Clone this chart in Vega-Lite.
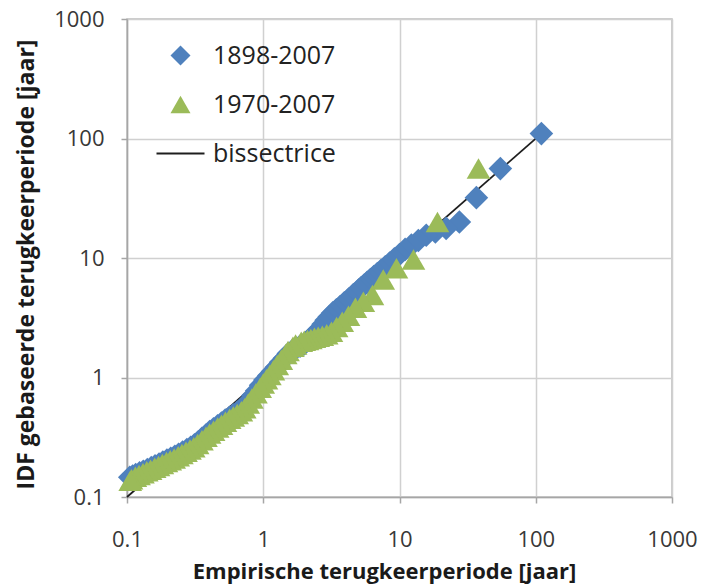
{
  "$schema": "https://vega.github.io/schema/vega-lite/v6.json",
  "width": 545,
  "height": 478,
  "autosize": "none",
  "padding": {"left": 127, "top": 19, "right": 31, "bottom": 89},
  "background": "white",
  "config": {"view": {"stroke": "#bdbdbd", "strokeWidth": 1.5}, "font": "Open Sans"},
  "datasets": {
    "bis": [{"x": 0.1, "y": 0.1}, {"x": 110, "y": 110}],
    "pts": [
      {"x": 110, "y": 110, "series": "1898-2007"},
      {"x": 55, "y": 56, "series": "1898-2007"},
      {"x": 36.67, "y": 32, "series": "1898-2007"},
      {"x": 27.5, "y": 20, "series": "1898-2007"},
      {"x": 22, "y": 17.7, "series": "1898-2007"},
      {"x": 18.33, "y": 16.5, "series": "1898-2007"},
      {"x": 15.71, "y": 15.5, "series": "1898-2007"},
      {"x": 13.75, "y": 14.0, "series": "1898-2007"},
      {"x": 12.22, "y": 12.8, "series": "1898-2007"},
      {"x": 11, "y": 11.8, "series": "1898-2007"},
      {"x": 10, "y": 10.7, "series": "1898-2007"},
      {"x": 9.167, "y": 9.82, "series": "1898-2007"},
      {"x": 8.462, "y": 9.07, "series": "1898-2007"},
      {"x": 7.857, "y": 8.43, "series": "1898-2007"},
      {"x": 7.333, "y": 7.88, "series": "1898-2007"},
      {"x": 6.875, "y": 7.41, "series": "1898-2007"},
      {"x": 6.471, "y": 6.99, "series": "1898-2007"},
      {"x": 6.111, "y": 6.61, "series": "1898-2007"},
      {"x": 5.789, "y": 6.27, "series": "1898-2007"},
      {"x": 5.5, "y": 5.94, "series": "1898-2007"},
      {"x": 5.238, "y": 5.66, "series": "1898-2007"},
      {"x": 5.0, "y": 5.40, "series": "1898-2007"},
      {"x": 4.583, "y": 4.93, "series": "1898-2007"},
      {"x": 4.231, "y": 4.54, "series": "1898-2007"},
      {"x": 3.929, "y": 4.21, "series": "1898-2007"},
      {"x": 3.667, "y": 3.93, "series": "1898-2007"},
      {"x": 3.4375, "y": 3.68, "series": "1898-2007"},
      {"x": 3.235, "y": 3.47, "series": "1898-2007"},
      {"x": 3.056, "y": 3.23, "series": "1898-2007"},
      {"x": 2.895, "y": 3.01, "series": "1898-2007"},
      {"x": 2.75, "y": 2.79, "series": "1898-2007"},
      {"x": 2.558, "y": 2.52, "series": "1898-2007"},
      {"x": 2.391, "y": 2.32, "series": "1898-2007"},
      {"x": 2.245, "y": 2.17, "series": "1898-2007"},
      {"x": 2.115, "y": 2.03, "series": "1898-2007"},
      {"x": 2.0, "y": 1.91, "series": "1898-2007"},
      {"x": 1.864, "y": 1.83, "series": "1898-2007"},
      {"x": 1.746, "y": 1.76, "series": "1898-2007"},
      {"x": 1.642, "y": 1.69, "series": "1898-2007"},
      {"x": 1.528, "y": 1.585, "series": "1898-2007"},
      {"x": 1.429, "y": 1.45, "series": "1898-2007"},
      {"x": 1.341, "y": 1.34, "series": "1898-2007"},
      {"x": 1.25, "y": 1.22, "series": "1898-2007"},
      {"x": 1.17, "y": 1.125, "series": "1898-2007"},
      {"x": 1.1, "y": 1.04, "series": "1898-2007"},
      {"x": 1.028, "y": 0.953, "series": "1898-2007"},
      {"x": 0.9565, "y": 0.861, "series": "1898-2007"},
      {"x": 0.8943, "y": 0.776, "series": "1898-2007"},
      {"x": 0.8397, "y": 0.706, "series": "1898-2007"},
      {"x": 0.7857, "y": 0.640, "series": "1898-2007"},
      {"x": 0.7333, "y": 0.575, "series": "1898-2007"},
      {"x": 0.6875, "y": 0.540, "series": "1898-2007"},
      {"x": 0.6433, "y": 0.513, "series": "1898-2007"},
      {"x": 0.6011, "y": 0.488, "series": "1898-2007"},
      {"x": 0.5641, "y": 0.465, "series": "1898-2007"},
      {"x": 0.5263, "y": 0.44, "series": "1898-2007"},
      {"x": 0.4933, "y": 0.416, "series": "1898-2007"},
      {"x": 0.4622, "y": 0.394, "series": "1898-2007"},
      {"x": 0.4314, "y": 0.372, "series": "1898-2007"},
      {"x": 0.4044, "y": 0.352, "series": "1898-2007"},
      {"x": 0.3793, "y": 0.330, "series": "1898-2007"},
      {"x": 0.3548, "y": 0.309, "series": "1898-2007"},
      {"x": 0.3333, "y": 0.290, "series": "1898-2007"},
      {"x": 0.3125, "y": 0.273, "series": "1898-2007"},
      {"x": 0.2933, "y": 0.260, "series": "1898-2007"},
      {"x": 0.275, "y": 0.249, "series": "1898-2007"},
      {"x": 0.2558, "y": 0.238, "series": "1898-2007"},
      {"x": 0.2391, "y": 0.228, "series": "1898-2007"},
      {"x": 0.2245, "y": 0.219, "series": "1898-2007"},
      {"x": 0.2095, "y": 0.211, "series": "1898-2007"},
      {"x": 0.1964, "y": 0.204, "series": "1898-2007"},
      {"x": 0.1833, "y": 0.196, "series": "1898-2007"},
      {"x": 0.1719, "y": 0.189, "series": "1898-2007"},
      {"x": 0.1606, "y": 0.182, "series": "1898-2007"},
      {"x": 0.1507, "y": 0.176, "series": "1898-2007"},
      {"x": 0.141, "y": 0.170, "series": "1898-2007"},
      {"x": 0.1317, "y": 0.164, "series": "1898-2007"},
      {"x": 0.1236, "y": 0.159, "series": "1898-2007"},
      {"x": 0.1158, "y": 0.154, "series": "1898-2007"},
      {"x": 0.11, "y": 0.150, "series": "1898-2007"},
      {"x": 0.1048, "y": 0.146, "series": "1898-2007"},
      {"x": 38, "y": 56, "series": "1970-2007"},
      {"x": 19, "y": 20, "series": "1970-2007"},
      {"x": 12.67, "y": 9.7, "series": "1970-2007"},
      {"x": 9.5, "y": 8.2, "series": "1970-2007"},
      {"x": 7.6, "y": 6.6, "series": "1970-2007"},
      {"x": 6.333, "y": 4.9, "series": "1970-2007"},
      {"x": 5.429, "y": 4.3, "series": "1970-2007"},
      {"x": 4.75, "y": 3.83, "series": "1970-2007"},
      {"x": 4.222, "y": 3.29, "series": "1970-2007"},
      {"x": 3.8, "y": 2.93, "series": "1970-2007"},
      {"x": 3.455, "y": 2.64, "series": "1970-2007"},
      {"x": 3.167, "y": 2.41, "series": "1970-2007"},
      {"x": 2.923, "y": 2.30, "series": "1970-2007"},
      {"x": 2.714, "y": 2.24, "series": "1970-2007"},
      {"x": 2.533, "y": 2.19, "series": "1970-2007"},
      {"x": 2.375, "y": 2.15, "series": "1970-2007"},
      {"x": 2.235, "y": 2.10, "series": "1970-2007"},
      {"x": 2.111, "y": 2.06, "series": "1970-2007"},
      {"x": 2.0, "y": 2.03, "series": "1970-2007"},
      {"x": 1.9, "y": 1.99, "series": "1970-2007"},
      {"x": 1.727, "y": 1.89, "series": "1970-2007"},
      {"x": 1.652, "y": 1.81, "series": "1970-2007"},
      {"x": 1.52, "y": 1.67, "series": "1970-2007"},
      {"x": 1.462, "y": 1.57, "series": "1970-2007"},
      {"x": 1.357, "y": 1.41, "series": "1970-2007"},
      {"x": 1.267, "y": 1.27, "series": "1970-2007"},
      {"x": 1.1875, "y": 1.15, "series": "1970-2007"},
      {"x": 1.118, "y": 1.05, "series": "1970-2007"},
      {"x": 1.056, "y": 0.965, "series": "1970-2007"},
      {"x": 1.0, "y": 0.889, "series": "1970-2007"},
      {"x": 0.95, "y": 0.822, "series": "1970-2007"},
      {"x": 0.884, "y": 0.738, "series": "1970-2007"},
      {"x": 0.826, "y": 0.667, "series": "1970-2007"},
      {"x": 0.776, "y": 0.606, "series": "1970-2007"},
      {"x": 0.731, "y": 0.554, "series": "1970-2007"},
      {"x": 0.691, "y": 0.523, "series": "1970-2007"},
      {"x": 0.644, "y": 0.495, "series": "1970-2007"},
      {"x": 0.603, "y": 0.472, "series": "1970-2007"},
      {"x": 0.567, "y": 0.451, "series": "1970-2007"},
      {"x": 0.528, "y": 0.426, "series": "1970-2007"},
      {"x": 0.494, "y": 0.402, "series": "1970-2007"},
      {"x": 0.463, "y": 0.381, "series": "1970-2007"},
      {"x": 0.432, "y": 0.359, "series": "1970-2007"},
      {"x": 0.404, "y": 0.34, "series": "1970-2007"},
      {"x": 0.38, "y": 0.319, "series": "1970-2007"},
      {"x": 0.355, "y": 0.299, "series": "1970-2007"},
      {"x": 0.33, "y": 0.278, "series": "1970-2007"},
      {"x": 0.309, "y": 0.261, "series": "1970-2007"},
      {"x": 0.29, "y": 0.25, "series": "1970-2007"},
      {"x": 0.271, "y": 0.239, "series": "1970-2007"},
      {"x": 0.253, "y": 0.229, "series": "1970-2007"},
      {"x": 0.2375, "y": 0.219, "series": "1970-2007"},
      {"x": 0.222, "y": 0.21, "series": "1970-2007"},
      {"x": 0.2077, "y": 0.203, "series": "1970-2007"},
      {"x": 0.1949, "y": 0.196, "series": "1970-2007"},
      {"x": 0.1818, "y": 0.189, "series": "1970-2007"},
      {"x": 0.1704, "y": 0.182, "series": "1970-2007"},
      {"x": 0.1597, "y": 0.176, "series": "1970-2007"},
      {"x": 0.149, "y": 0.169, "series": "1970-2007"},
      {"x": 0.1397, "y": 0.164, "series": "1970-2007"},
      {"x": 0.131, "y": 0.158, "series": "1970-2007"},
      {"x": 0.1226, "y": 0.153, "series": "1970-2007"},
      {"x": 0.1152, "y": 0.148, "series": "1970-2007"},
      {"x": 0.108, "y": 0.141, "series": "1970-2007"},
      {"x": 0.1056, "y": 0.137, "series": "1970-2007"}
    ]
  },
  "encoding": {
    "x": {
      "field": "x", "type": "quantitative",
      "scale": {"type": "log", "domain": [0.1, 1000], "nice": false},
      "axis": {
        "values": [0.1, 1, 10, 100, 1000], "format": "~g",
        "title": "Empirische terugkeerperiode [jaar]",
        "titleFont": "Open Sans", "titleFontSize": 22, "titleFontWeight": "bold", "titleColor": "#1a1a1a",
        "titleX": 257, "titleY": 81, "titleBaseline": "alphabetic",
        "labelFont": "Open Sans", "labelFontSize": 22, "labelColor": "#383838",
        "labelBaseline": "alphabetic", "labelPadding": 43, "labelFlush": false, "labelOverlap": false, "labelBound": false,
        "tickSize": 6, "tickColor": "#a6a6a6", "tickWidth": 1.5,
        "domainColor": "#a6a6a6", "domainWidth": 1.5,
        "gridColor": "#d0d0d0", "gridWidth": 1.5
      }
    },
    "y": {
      "field": "y", "type": "quantitative",
      "scale": {"type": "log", "domain": [0.1, 1000], "nice": false},
      "axis": {
        "values": [0.1, 1, 10, 100, 1000], "format": "~g",
        "title": "IDF gebaseerde terugkeerperiode [jaar]",
        "titleFont": "Open Sans", "titleFontSize": 23, "titleFontWeight": "bold", "titleColor": "#1a1a1a",
        "titleX": -94, "titleY": 245, "titleBaseline": "alphabetic",
        "labelFont": "Open Sans", "labelFontSize": 22, "labelColor": "#383838",
        "labelPadding": 17, "labelOverlap": false, "labelBound": false, "labelFlush": false,
        "tickSize": 6, "tickColor": "#a6a6a6", "tickWidth": 1.5,
        "domainColor": "#a6a6a6", "domainWidth": 1.5,
        "gridColor": "#d0d0d0", "gridWidth": 1.5
      }
    }
  },
  "layer": [
    {
      "data": {"name": "bis"},
      "mark": {"type": "line", "color": "#1e1e1e", "strokeWidth": 1.8},
      "encoding": {}
    },
    {
      "data": {"name": "pts"},
      "mark": {"type": "point", "filled": true, "opacity": 1, "size": 560, "strokeWidth": 0},
      "encoding": {
        "color": {
          "field": "series", "type": "nominal",
          "scale": {"domain": ["1898-2007", "1970-2007", "bissectrice"], "range": ["#4F81BD", "#9BBB59", "#1e1e1e"]},
          "legend": {
            "title": null, "orient": "none", "legendX": 41, "legendY": 24,
            "labelFont": "Open Sans", "labelFontSize": 25, "labelColor": "#222222",
            "symbolSize": 400, "labelOffset": 20, "rowPadding": 23, "symbolStrokeWidth": 0, "symbolOpacity": 1, "padding": 0
          }
        },
        "shape": {
          "field": "series", "type": "nominal",
          "scale": {"domain": ["1898-2007", "1970-2007", "bissectrice"], "range": ["diamond", "triangle-up", "M-2.4,-0.1L2.4,-0.1L2.4,0.1L-2.4,0.1Z"]},
          "legend": {
            "title": null, "orient": "none", "legendX": 41, "legendY": 24,
            "labelFont": "Open Sans", "labelFontSize": 25, "labelColor": "#222222",
            "symbolSize": 400, "labelOffset": 20, "rowPadding": 23, "symbolStrokeWidth": 0, "symbolOpacity": 1, "padding": 0
          }
        }
      }
    }
  ]
}
